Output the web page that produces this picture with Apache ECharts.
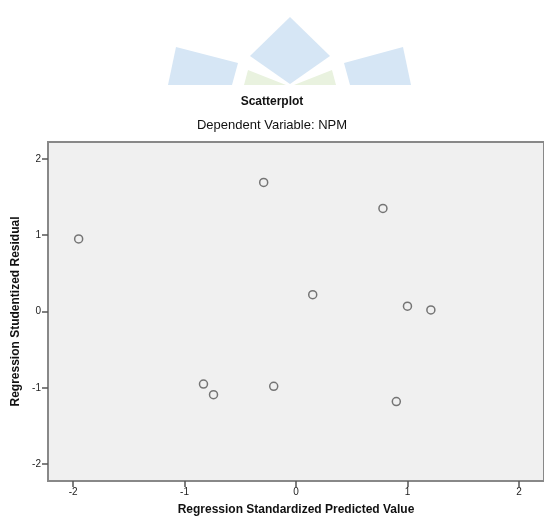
<!DOCTYPE html>
<html>
<head>
<meta charset="utf-8">
<script src="https://cdn.jsdelivr.net/npm/echarts@6/dist/echarts.min.js"></script>
<style>
  html, body { margin: 0; padding: 0; background: #fff; }
  #chart { width: 544px; height: 522px; }
</style>
</head>
<body>
<div id="chart"></div>
<script>
// predicted value (x) / studentized residual (y)
var predicted = [-1.95, -0.29, 0.78, 0.15, 1.00, 1.21, -0.83, -0.74, -0.20, 0.90];
var residual  = [0.95, 1.69, 1.35, 0.22, 0.07, 0.02, -0.95, -1.09, -0.98, -1.18];
var tickValues = [-2, -1, 0, 1, 2];

var points = predicted.map(function (v, i) { return [v, residual[i]]; });

var chart = echarts.init(document.getElementById('chart'));

// faint logo watermark behind the title
var blue = '#d6e6f5', green = '#e9f2df';
var watermark = [
    { type: 'polygon', shape: { points: [[176, 47], [238, 63], [232, 85], [168, 85]] }, style: { fill: blue } },
    { type: 'polygon', shape: { points: [[403, 47], [344, 63], [350, 85], [411, 85]] }, style: { fill: blue } },
    { type: 'polygon', shape: { points: [[290, 17], [330, 56], [290, 84], [250, 56]] }, style: { fill: blue } },
    { type: 'polygon', shape: { points: [[248, 70], [286, 85], [244, 85]] }, style: { fill: green } },
    { type: 'polygon', shape: { points: [[332, 70], [294, 85], [336, 85]] }, style: { fill: green } }
];

var font = 'Arial, "Liberation Sans"';

chart.setOption({
    animation: false,
    backgroundColor: '#fff',
    graphic: watermark.concat([
        { type: 'text', left: 'center', top: 96, style: { text: 'Scatterplot', font: 'bold 12px ' + font, fill: '#111' } },
        { type: 'text', left: 'center', top: 119, style: { text: 'Dependent Variable: NPM', font: '13px ' + font, fill: '#111' } }
    ]),
    grid: {
        left: 48, top: 142, bottom: 41, right: -10,
        show: true, backgroundColor: '#f0f0f0', borderColor: '#888', borderWidth: 2
    },
    xAxis: {
        type: 'value', min: -2.225, max: 2.225,
        name: 'Regression Standardized Predicted Value',
        nameLocation: 'middle', nameGap: 23,
        nameTextStyle: { fontFamily: font, fontWeight: 'bold', fontSize: 12, color: '#111' },
        splitLine: { show: false },
        axisLine: { show: true, onZero: false, lineStyle: { color: '#888', width: 2 } },
        axisTick: { show: true, length: 6, lineStyle: { color: '#555', width: 1.5 }, customValues: tickValues },
        axisLabel: { margin: 6, fontSize: 10, color: '#222', fontFamily: font, customValues: tickValues }
    },
    yAxis: {
        type: 'value', min: -2.22, max: 2.22,
        name: 'Regression Studentized Residual',
        nameLocation: 'middle', nameGap: 22, nameRotate: 90,
        nameTextStyle: { fontFamily: font, fontWeight: 'bold', fontSize: 12, color: '#111' },
        splitLine: { show: false },
        axisLine: { show: true, onZero: false, lineStyle: { color: '#888', width: 2 } },
        axisTick: { show: true, length: 6, lineStyle: { color: '#555', width: 1.5 }, customValues: tickValues },
        axisLabel: { margin: 7, fontSize: 10, color: '#222', fontFamily: font, customValues: tickValues }
    },
    series: [{
        type: 'scatter',
        data: points,
        symbol: 'circle',
        symbolSize: 8,
        itemStyle: { color: 'transparent', borderColor: '#555', borderWidth: 1.5 },
        emphasis: { disabled: true }
    }]
});
</script>
</body>
</html>
